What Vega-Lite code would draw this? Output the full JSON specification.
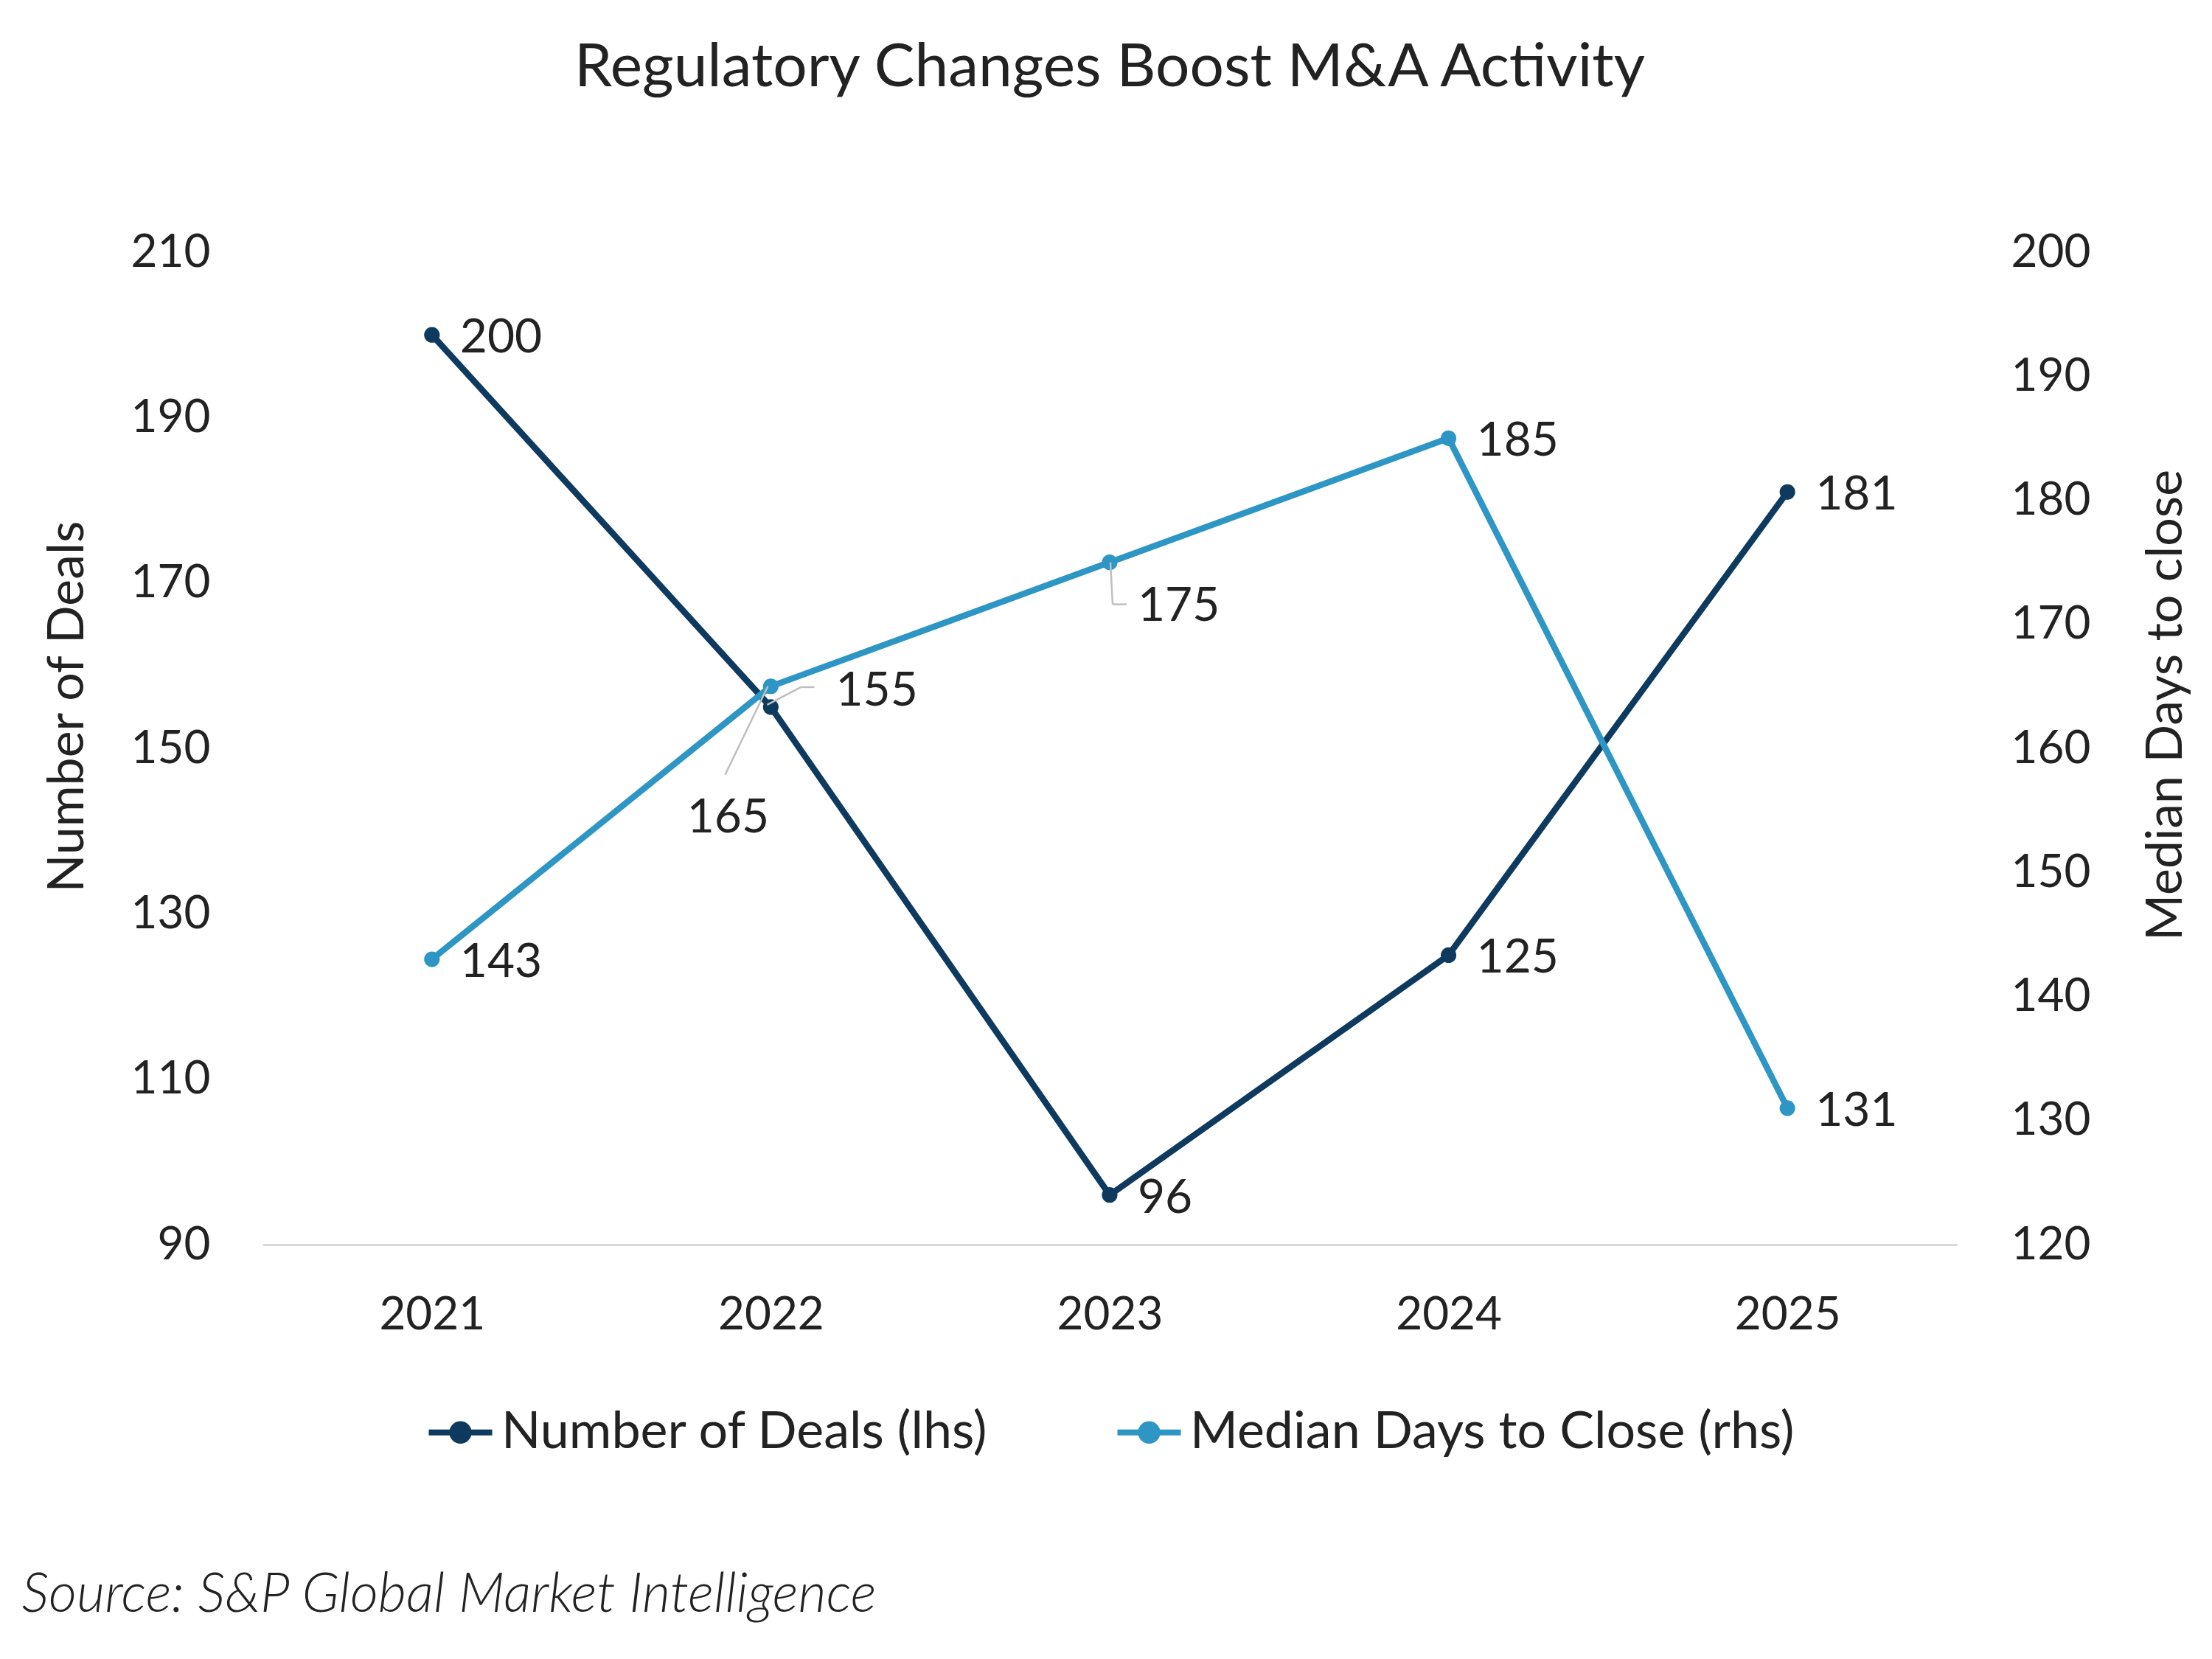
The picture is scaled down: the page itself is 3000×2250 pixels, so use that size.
{
  "$schema": "https://vega.github.io/schema/vega-lite/v6.json",
  "autosize": {"type": "none"},
  "width": 2298,
  "height": 1346,
  "padding": {"left": 356, "top": 342, "right": 346, "bottom": 562},
  "background": "white",
  "title": {
    "text": "Regulatory Changes Boost M&A Activity",
    "frame": "group",
    "anchor": "middle",
    "offset": 177,
    "fontSize": 82,
    "fontWeight": "normal",
    "font": "Lato",
    "color": "#222222"
  },
  "data": {
    "values": [
      {"year": "2021", "series": "Number of Deals (lhs)", "value": 200},
      {"year": "2022", "series": "Number of Deals (lhs)", "value": 155},
      {"year": "2023", "series": "Number of Deals (lhs)", "value": 96},
      {"year": "2024", "series": "Number of Deals (lhs)", "value": 125},
      {"year": "2025", "series": "Number of Deals (lhs)", "value": 181},
      {"year": "2021", "series": "Median Days to Close (rhs)", "value": 143},
      {"year": "2022", "series": "Median Days to Close (rhs)", "value": 165},
      {"year": "2023", "series": "Median Days to Close (rhs)", "value": 175},
      {"year": "2024", "series": "Median Days to Close (rhs)", "value": 185},
      {"year": "2025", "series": "Median Days to Close (rhs)", "value": 131}
    ]
  },
  "encoding": {
    "x": {
      "field": "year",
      "type": "ordinal",
      "scale": {"type": "point", "padding": 0.5},
      "axis": {
        "title": "Source: S&P Global Market Intelligence",
        "titleFont": "Lato",
        "titleFontStyle": "italic",
        "titleFontWeight": 300,
        "titleFontSize": 74,
        "titleColor": "#222222",
        "titleAlign": "left",
        "titleAnchor": "start",
        "titleBaseline": "middle",
        "titleX": -327,
        "titleY": 475,
        "labelAngle": 0,
        "labelFontSize": 62,
        "labelPadding": 65,
        "labelColor": "#222222",
        "labelFont": "Lato",
        "domain": true,
        "domainColor": "#d9d9d9",
        "domainWidth": 3,
        "ticks": false,
        "grid": false
      }
    }
  },
  "layer": [
    {
      "transform": [{"filter": "datum.series === 'Number of Deals (lhs)'"}],
      "encoding": {
        "y": {
          "field": "value",
          "type": "quantitative",
          "scale": {"domain": [90, 210], "nice": false, "zero": false},
          "axis": {
            "orient": "left",
            "title": "Number of Deals",
            "values": [90, 110, 130, 150, 170, 190, 210],
            "titleFont": "Lato",
            "titleFontSize": 68,
            "titleFontWeight": "normal",
            "titleColor": "#222222",
            "titleAngle": 270,
            "titleBaseline": "middle",
            "titleAlign": "center",
            "titleX": -264,
            "titleY": 616,
            "labelFontSize": 62,
            "labelPadding": 71,
            "labelColor": "#222222",
            "labelFont": "Lato",
            "domain": false,
            "ticks": false,
            "grid": false
          }
        }
      },
      "layer": [
        {
          "mark": {"type": "line", "strokeWidth": 8.5, "point": {"filled": true, "size": 450}},
          "encoding": {
            "color": {
              "field": "series",
              "type": "nominal",
              "scale": {
                "domain": ["Number of Deals (lhs)", "Median Days to Close (rhs)"],
                "range": ["#0d3a5e", "#2e96c4"]
              },
              "legend": {
                "title": null,
                "orient": "none",
                "direction": "horizontal",
                "legendX": 221,
                "legendY": 1553,
                "labelFontSize": 70,
                "labelFont": "Lato",
                "labelColor": "#222222",
                "labelLimit": 2000,
                "labelOffset": 8,
                "columnPadding": 157,
                "symbolType": "M-1,0L1,0M-0.26,0A0.26,0.26 0 1,1 0.26,0A0.26,0.26 0 1,1 -0.26,0Z",
                "symbolSize": 7400,
                "symbolStrokeWidth": 8,
                "symbolOpacity": 1
              }
            }
          }
        },
        {
          "transform": [{"filter": "datum.year === '2022'"}],
          "mark": {"type": "rule", "color": "#bfbfbf", "strokeWidth": 2.5, "xOffset": -5, "yOffset": -3, "x2Offset": 41, "y2Offset": -27},
          "encoding": {"x2": {"field": "year"}, "y2": {"field": "value"}}
        },
        {
          "transform": [{"filter": "datum.year === '2022'"}],
          "mark": {"type": "rule", "color": "#bfbfbf", "strokeWidth": 2.5, "xOffset": 41, "yOffset": -27, "x2Offset": 59, "y2Offset": -27},
          "encoding": {"x2": {"field": "year"}, "y2": {"field": "value"}}
        },
        {
          "transform": [{"filter": "datum.year !== '2022'"}],
          "mark": {"type": "text", "align": "left", "baseline": "middle", "dx": 38, "dy": 5, "fontSize": 64, "font": "Lato", "color": "#222222"},
          "encoding": {"text": {"field": "value", "type": "quantitative"}}
        },
        {
          "transform": [{"filter": "datum.year === '2022'"}],
          "mark": {"type": "text", "align": "left", "baseline": "middle", "dx": 88, "dy": -21, "fontSize": 64, "font": "Lato", "color": "#222222"},
          "encoding": {"text": {"field": "value", "type": "quantitative"}}
        }
      ]
    },
    {
      "transform": [{"filter": "datum.series === 'Median Days to Close (rhs)'"}],
      "encoding": {
        "y": {
          "field": "value",
          "type": "quantitative",
          "scale": {"domain": [120, 200], "nice": false, "zero": false},
          "axis": {
            "orient": "right",
            "title": "Median Days to close",
            "values": [120, 130, 140, 150, 160, 170, 180, 190, 200],
            "titleFont": "Lato",
            "titleFontSize": 68,
            "titleFontWeight": "normal",
            "titleColor": "#222222",
            "titleAngle": 270,
            "titleBaseline": "middle",
            "titleAlign": "center",
            "titleX": 284,
            "titleY": 614,
            "labelFontSize": 62,
            "labelPadding": 73,
            "labelColor": "#222222",
            "labelFont": "Lato",
            "domain": false,
            "ticks": false,
            "grid": false
          }
        }
      },
      "layer": [
        {
          "mark": {"type": "line", "strokeWidth": 8.5, "point": {"filled": true, "size": 450}},
          "encoding": {
            "color": {"field": "series", "type": "nominal"}
          }
        },
        {
          "transform": [{"filter": "datum.year === '2022'"}],
          "mark": {"type": "rule", "color": "#bfbfbf", "strokeWidth": 2.5, "xOffset": -4, "yOffset": 0, "x2Offset": -62, "y2Offset": 120},
          "encoding": {"x2": {"field": "year"}, "y2": {"field": "value"}}
        },
        {
          "transform": [{"filter": "datum.year === '2023'"}],
          "mark": {"type": "rule", "color": "#bfbfbf", "strokeWidth": 2.5, "xOffset": 1, "yOffset": 0, "x2Offset": 4, "y2Offset": 57},
          "encoding": {"x2": {"field": "year"}, "y2": {"field": "value"}}
        },
        {
          "transform": [{"filter": "datum.year === '2023'"}],
          "mark": {"type": "rule", "color": "#bfbfbf", "strokeWidth": 2.5, "xOffset": 4, "yOffset": 57, "x2Offset": 23, "y2Offset": 57},
          "encoding": {"x2": {"field": "year"}, "y2": {"field": "value"}}
        },
        {
          "transform": [{"filter": "datum.year !== '2022' && datum.year !== '2023'"}],
          "mark": {"type": "text", "align": "left", "baseline": "middle", "dx": 38, "dy": 5, "fontSize": 64, "font": "Lato", "color": "#222222"},
          "encoding": {"text": {"field": "value", "type": "quantitative"}}
        },
        {
          "transform": [{"filter": "datum.year === '2022'"}],
          "mark": {"type": "text", "align": "center", "baseline": "middle", "dx": -58, "dy": 179, "fontSize": 64, "font": "Lato", "color": "#222222"},
          "encoding": {"text": {"field": "value", "type": "quantitative"}}
        },
        {
          "transform": [{"filter": "datum.year === '2023'"}],
          "mark": {"type": "text", "align": "left", "baseline": "middle", "dx": 38, "dy": 60, "fontSize": 64, "font": "Lato", "color": "#222222"},
          "encoding": {"text": {"field": "value", "type": "quantitative"}}
        }
      ]
    }
  ],
  "resolve": {"scale": {"y": "independent"}},
  "config": {
    "view": {"stroke": null},
    "font": "Lato"
  }
}
